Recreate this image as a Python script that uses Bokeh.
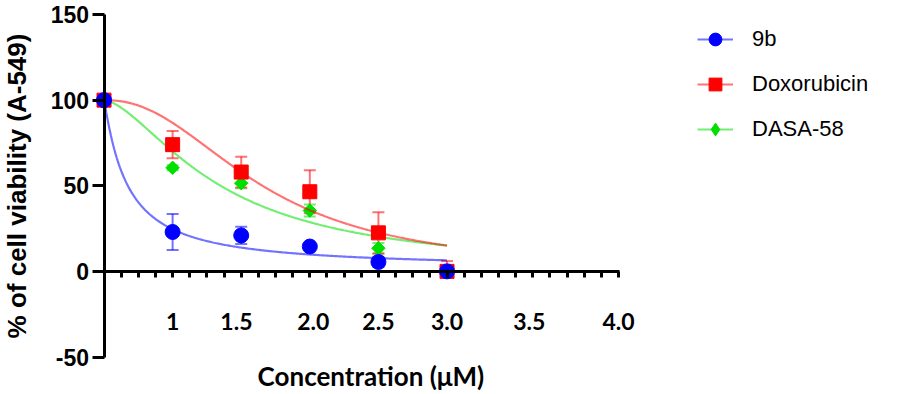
import numpy as np
from bokeh.plotting import figure
from bokeh.models import (ColumnDataSource, Whisker, TeeHead, FixedTicker,
                          Range1d, Legend, LegendItem, Label)
from bokeh.embed import file_html
from bokeh.resources import INLINE

# ---------------- data ----------------
concentrations = ["0", "1", "1.5", "2.0", "2.5", "3.0"]
x_positions = [0, 1, 2, 3, 4, 5]

viability_9b = [100, 23, 21, 14.5, 5.5, 0]
sd_9b = [0, 10.5, 5, 1.5, 3, 1]
viability_dox = [100, 74, 58, 46.5, 22.5, 0]
sd_dox = [0, 8, 9, 12.5, 12, 6]
viability_dasa = [100, 60.5, 51.5, 35.5, 13.5, 0]
sd_dasa = [0, 1.5, 3, 3.5, 3, 0]

# fitted dose-response curves: (top, bottom, midpoint, hill slope)
fit_9b = (100, 1.5, 0.338, 1.09)
fit_dox = (100, 0, 2.31, 2.24)
fit_dasa = (100, 0, 1.70, 1.6)

x_tick_positions = [1, 1.93, 3.05, 4, 5, 6.2, 7.5]
x_tick_labels = ["1", "1.5", "2.0", "2.5", "3.0", "3.5", "4.0"]
y_ticks = [-50, 0, 50, 100, 150]
y_tick_labels = ["-50", "0", "50", "100", "150"]

series = [
    ("9b", viability_9b, sd_9b, fit_9b, "#0000ff", "circle", 15, 0.0),
    ("Doxorubicin", viability_dox, sd_dox, fit_dox, "#ff0000", "square", 14, 0.0),
    ("DASA-58", viability_dasa, sd_dasa, fit_dasa, "#00e000", "square", 9.5, np.pi / 4),
]

# The plotting frame covers the whole figure; both axes are placed at
# fixed data locations (crossing at the origin) and bounded.
p = figure(width=894, height=392, output_backend="svg", toolbar_location=None,
           x_range=Range1d(-1.509, 11.523), y_range=Range1d(-70.73, 158.18),
           min_border=0, min_border_left=0, min_border_right=0,
           min_border_top=0, min_border_bottom=0)
p.outline_line_color = None
p.xgrid.visible = False
p.ygrid.visible = False

# y axis
ya = p.yaxis[0]
ya.fixed_location = 0
ya.bounds = (-50, 150)
ya.ticker = FixedTicker(ticks=y_ticks, minor_ticks=[])
ya.major_label_overrides = {t: l for t, l in zip(y_ticks, y_tick_labels)}
ya.axis_line_width = 3
ya.major_tick_line_width = 3
ya.major_tick_out = 12
ya.major_tick_in = 0
ya.major_label_text_font = "Liberation Sans"
ya.major_label_text_font_style = "bold"
ya.major_label_text_font_size = "23px"
ya.major_label_text_color = "black"
ya.major_label_standoff = 3
ya.axis_label = "% of cell viability (A-549)"
ya.axis_label_text_font = "Liberation Sans"
ya.axis_label_text_font_style = "bold"
ya.axis_label_text_font_size = "26px"
ya.axis_label_text_color = "black"
ya.axis_label_standoff = 16

# x axis crossing at y = 0
xa = p.xaxis[0]
xa.fixed_location = 0
xa.bounds = (0, 7.52)
minor = [i * 0.25 for i in range(1, 31)]
xa.ticker = FixedTicker(ticks=x_tick_positions, minor_ticks=minor)
xa.major_label_overrides = {t: l for t, l in zip(x_tick_positions, x_tick_labels)}
xa.axis_line_width = 3
xa.major_tick_out = 0
xa.major_tick_in = 0
xa.minor_tick_out = 6
xa.minor_tick_in = 0
xa.minor_tick_line_width = 3
xa.minor_tick_line_color = "black"
xa.major_label_text_font = "Lato"
xa.major_label_text_font_style = "bold"
xa.major_label_text_font_size = "23px"
xa.major_label_text_color = "black"
xa.major_label_standoff = 36

x_title = Label(x=3.89, y=-61.3, text="Concentration (μM)", text_align="center",
                text_baseline="middle", text_font="Lato", text_font_style="bold",
                text_font_size="26px", text_color="black")
p.add_layout(x_title)

u = np.linspace(0, 5, 300)
order = [2, 1, 0]  # draw DASA-58 first, 9b last (on top)
renderers = {}
for idx in order:
    name, vals, sd, fit, color, marker, size, angle = series[idx]
    top, bottom, k, h = fit
    curve = bottom + (top - bottom) / (1 + (u / k) ** h)
    lr = p.line(u, curve, line_color=color, line_alpha=0.55, line_width=2.2)
    src = ColumnDataSource(dict(
        x=x_positions, y=vals,
        upper=[v + s for v, s in zip(vals, sd)],
        lower=[max(v - s, 0) for v, s in zip(vals, sd)],
    ))
    w = Whisker(base="x", upper="upper", lower="lower", source=src,
                line_color=color, line_alpha=0.55, line_width=2,
                upper_head=TeeHead(size=12, line_color=color, line_alpha=0.55, line_width=2),
                lower_head=TeeHead(size=12, line_color=color, line_alpha=0.55, line_width=2),
                level="underlay")
    p.add_layout(w)
    sr = p.scatter("x", "y", source=src, marker=marker, size=size, angle=angle,
                   fill_color=color, line_color=color, line_width=1)
    if idx == 2:
        # legend-only diamond glyph (the plotted diamonds are rotated squares)
        sr = p.scatter("x", "y", source=src, marker="diamond", size=18,
                       fill_color=color, line_color=color, line_width=1, visible=False)
    renderers[idx] = (lr, sr)

items = [LegendItem(label=series[idx][0], renderers=list(renderers[idx])) for idx in range(3)]

legend = Legend(items=items, location=(697, 247), glyph_width=36, glyph_height=32,
                label_standoff=19, spacing=13, padding=0, margin=0,
                label_text_font="Liberation Sans", label_text_font_size="22px",
                label_text_color="black", border_line_color=None,
                background_fill_alpha=0, inactive_fill_alpha=0)
p.add_layout(legend)

open("out.html", "w").write(file_html(p, INLINE))
